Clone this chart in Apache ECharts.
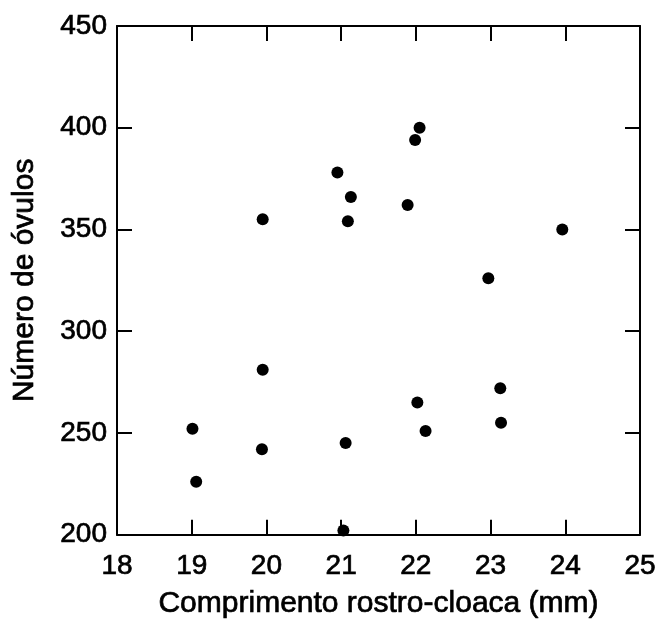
<!DOCTYPE html>
<html>
<head>
<meta charset="utf-8">
<script src="https://cdn.jsdelivr.net/npm/echarts@6/dist/echarts.min.js"></script>
<style>
  html, body { margin: 0; padding: 0; background: #fff; }
  #chart { width: 662px; height: 624px; }
</style>
</head>
<body>
<div id="chart"></div>
<script>
// Snout-vent length (mm) and ovule count for each female
const comprimento = [22.05, 21.99, 20.95, 21.13, 21.89, 19.95, 21.09, 22.97, 23.96,
                     19.95, 19.01, 19.06, 19.94, 21.06, 21.03, 22.02, 22.13, 23.13, 23.14];
const ovulos      = [400, 394, 378, 366, 362, 355, 354, 326, 350,
                     281, 252, 226, 242, 245, 202, 265, 251, 272, 255];

const xTicks = [18, 19, 20, 21, 22, 23, 24, 25];
const yTicks = [200, 250, 300, 350, 400, 450];

const xTitle = 'Comprimento rostro-cloaca (mm)';
const yTitle = 'Número de óvulos';

const FONT = 'Liberation Sans, Arial, sans-serif';
const points = comprimento.map((x, i) => [x, ovulos[i]]);

const lineStyle = { color: '#000', width: 2 };
const tickStyle = { color: '#000', width: 2 };
// a thin outline gives the glyphs a slightly heavier weight
const heavy = { textBorderColor: '#000', textBorderWidth: 0.7 };

function xAxisCfg(position, showLabels) {
  return {
    type: 'value', position,
    min: xTicks[0], max: xTicks[xTicks.length - 1], interval: 1,
    axisLine: { show: true, onZero: false, lineStyle },
    axisTick: { show: true, inside: true, length: 15, lineStyle: tickStyle },
    splitLine: { show: false },
    axisLabel: Object.assign({ show: showLabels, color: '#000', fontFamily: FONT, fontSize: 28, margin: 18 }, heavy),
    name: showLabels ? xTitle : '',
    nameLocation: 'middle', nameGap: 54,
    nameTextStyle: Object.assign({ color: '#000', fontFamily: FONT, fontSize: 30 }, heavy)
  };
}

function yAxisCfg(position, showLabels) {
  return {
    type: 'value', position,
    min: yTicks[0], max: yTicks[yTicks.length - 1], interval: 50,
    axisLine: { show: true, onZero: false, lineStyle },
    axisTick: { show: true, inside: true, length: 15, lineStyle: tickStyle },
    splitLine: { show: false },
    axisLabel: Object.assign({ show: showLabels, color: '#000', fontFamily: FONT, fontSize: 28, margin: 10 }, heavy),
    name: showLabels ? yTitle : '',
    nameLocation: 'middle', nameGap: 77, nameRotate: 90,
    nameTextStyle: Object.assign({ color: '#000', fontFamily: FONT, fontSize: 30 }, heavy)
  };
}

const chart = echarts.init(document.getElementById('chart'), null, { renderer: 'canvas' });
chart.setOption({
  backgroundColor: '#fff',
  animation: false,
  grid: { left: 117, right: 22, top: 26, bottom: 84 },
  xAxis: [xAxisCfg('bottom', true), xAxisCfg('top', false)],
  yAxis: [yAxisCfg('left', true), yAxisCfg('right', false)],
  series: [{
    type: 'scatter',
    data: points,
    symbol: 'circle',
    symbolSize: 12,
    clip: false,
    itemStyle: { color: '#000', opacity: 1 }
  }]
});
</script>
</body>
</html>
